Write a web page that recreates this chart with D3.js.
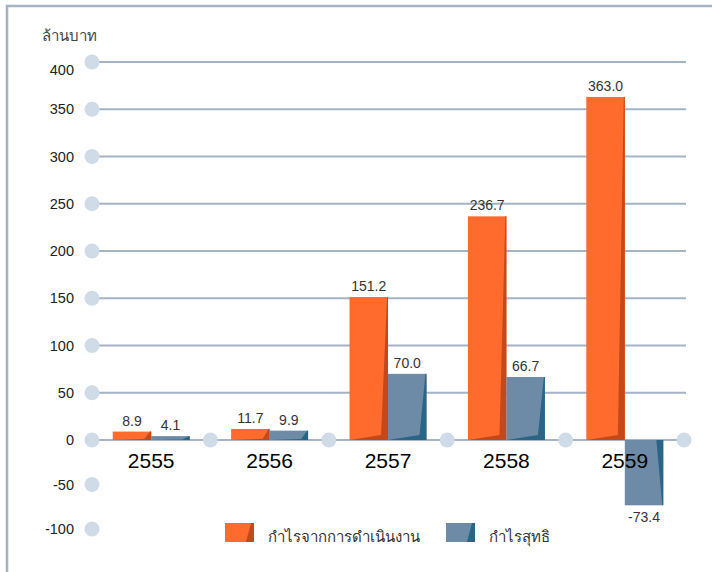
<!DOCTYPE html>
<html>
<head>
<meta charset="utf-8">
<script src="https://cdn.jsdelivr.net/npm/d3@7"></script>
<style>
  body { margin: 0; background: #fff; }
  svg { display: block; font-family: "Liberation Sans", Arial, Helvetica, sans-serif; }
</style>
</head>
<body>
<div id="chart"></div>
<script>
// values
const categories = ["2555", "2556", "2557", "2558", "2559"];
const operatingProfit = [8.9, 11.7, 151.2, 236.7, 363.0];
const netProfit = [4.1, 9.9, 70.0, 66.7, -73.4];
const seriesNames = ["กำไรจากการดำเนินงาน", "กำไรสุทธิ"];
const yTicks = [-100, -50, 0, 50, 100, 150, 200, 250, 300, 350, 400];
const yTitle = "ล้านบาท";

const width = 712, height = 572;
const colors = ["#fe6b2c", "#6d8ba6"];
const shades = ["#c4491a", "#2a6586"];
const gridColor = "#a5b3c7";
const dotColor = "#cfdbe7";

const svg = d3.select("#chart").append("svg")
    .attr("width", width)
    .attr("height", height);

// frame (top and left border)
svg.append("path")
    .attr("d", "M7,572 L7,6 L712,6")
    .attr("fill", "none")
    .attr("stroke", gridColor)
    .attr("stroke-width", 2.5);

const x = d3.scaleBand().domain(categories).range([92, 684]).paddingInner(0);
const y = d3.scaleLinear().domain([-100, 0, 400]).range([529, 440, 62]);

const barW = x.bandwidth() * 0.325;
const groupPad = (x.bandwidth() - barW * 2) / 2;

// gridlines
svg.append("g").selectAll("line")
    .data(yTicks.filter(d => d > 0))
    .enter().append("line")
    .attr("x1", 92).attr("x2", 686)
    .attr("y1", d => y(d)).attr("y2", d => y(d))
    .attr("stroke", gridColor)
    .attr("stroke-width", 2);

svg.append("line")
    .attr("x1", x.range()[0]).attr("x2", x.range()[1])
    .attr("y1", y(0)).attr("y2", y(0))
    .attr("stroke", gridColor)
    .attr("stroke-width", 2);

// dots at axis
svg.append("g").selectAll("circle")
    .data(yTicks)
    .enter().append("circle")
    .attr("cx", 92)
    .attr("cy", d => y(d))
    .attr("r", 7.5)
    .attr("fill", dotColor);

// dots on zero line at category edges
svg.append("g").selectAll("circle")
    .data(categories)
    .enter().append("circle")
    .attr("cx", d => x(d) + x.bandwidth())
    .attr("cy", y(0))
    .attr("r", 7.5)
    .attr("fill", dotColor);

// tick labels (top one sits a bit lower, like the original)
const topTick = d3.max(yTicks);
svg.append("g").selectAll("text")
    .data(yTicks)
    .enter().append("text")
    .attr("x", 74)
    .attr("y", d => y(d) + (d === topTick ? 8 : 0))
    .attr("dy", "0.36em")
    .attr("text-anchor", "end")
    .style("font-size", "14.5px")
    .attr("fill", "#222")
    .text(d => d);

svg.append("text")
    .attr("x", 42)
    .attr("y", 41)
    .style("font-size", "15px")
    .attr("fill", "#444")
    .text(yTitle);

// bars
const rows = [];
categories.forEach(function (c, i) {
    [operatingProfit[i], netProfit[i]].forEach(function (v, s) {
        rows.push({ cat: c, s: s, value: v });
    });
});

function barX(d) { return x(d.cat) + groupPad + d.s * barW; }

function shadePath(d) {
    const l = barX(d), r = l + barW;
    const z = y(0), e = y(d.value);
    const h = Math.abs(z - e);
    const w = barW * 0.18;
    if (d.value >= 0) {
        const k = Math.min(5, h * 0.12);
        return "M" + (r - 1) + "," + e + "L" + r + "," + e + "L" + r + "," + z +
            "L" + l + "," + z + "L" + (r - w) + "," + (z - k) + "Z";
    }
    return "M" + (r - w) + "," + z + "L" + r + "," + z + "L" + r + "," + e +
        "L" + (r - 1) + "," + e + "Z";
}

const bars = svg.append("g").selectAll("g")
    .data(rows)
    .enter().append("g");

bars.append("rect")
    .attr("x", barX)
    .attr("y", d => Math.min(y(d.value), y(0)))
    .attr("width", barW)
    .attr("height", d => Math.abs(y(d.value) - y(0)))
    .attr("fill", d => colors[d.s]);

bars.append("path")
    .attr("d", shadePath)
    .attr("fill", d => shades[d.s]);

// category labels
svg.append("g").selectAll("text")
    .data(categories)
    .enter().append("text")
    .attr("x", d => x(d) + x.bandwidth() / 2)
    .attr("y", y(0) + 28)
    .attr("text-anchor", "middle")
    .style("font-size", "21px")
    .attr("fill", "#000")
    .text(d => d);

// value labels
bars.append("text")
    .attr("x", d => barX(d) + barW / 2)
    .attr("y", d => d.value >= 0 ? y(d.value) - 6 : y(d.value) + 17)
    .attr("text-anchor", "middle")
    .style("font-size", "14px")
    .attr("fill", "#333")
    .text(d => d.value.toFixed(1));

// legend
const legend = svg.append("g").selectAll("g")
    .data(seriesNames)
    .enter().append("g")
    .attr("transform", (d, i) => "translate(" + [225, 446][i] + ",523)");

legend.append("rect")
    .attr("width", 29).attr("height", 19)
    .attr("fill", (d, i) => colors[i]);

legend.append("path")
    .attr("d", "M26,0L29,0L29,19L21,19Z")
    .attr("fill", (d, i) => shades[i]);

legend.append("text")
    .attr("x", 43)
    .attr("y", 19)
    .style("font-size", "15px")
    .attr("fill", "#333")
    .text(d => d);
</script>
</body>
</html>
